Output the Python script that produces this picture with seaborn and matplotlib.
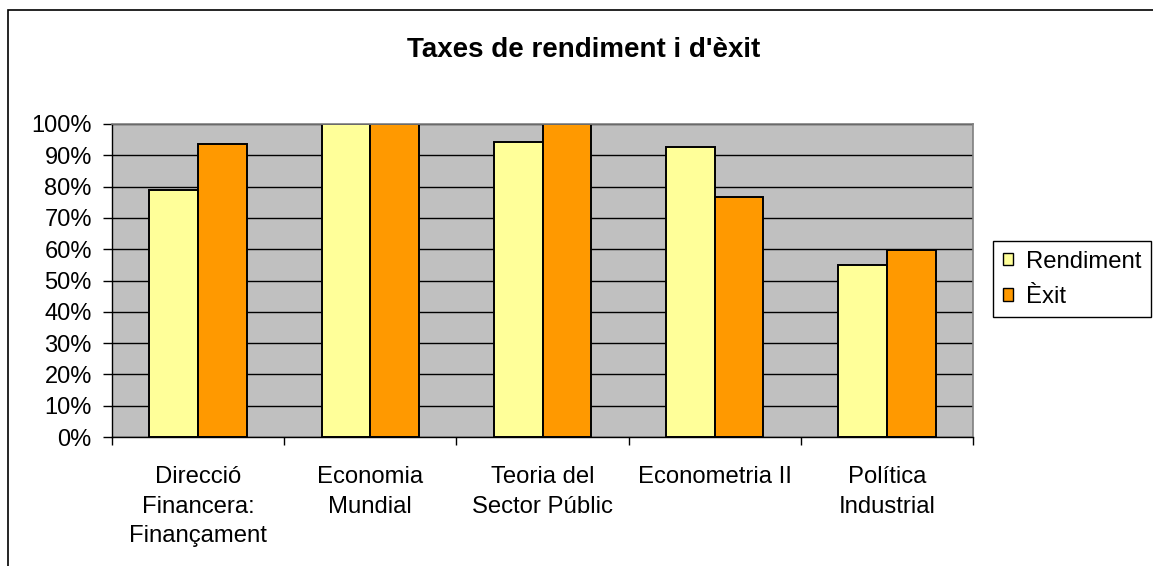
import pandas as pd
import seaborn as sns
import matplotlib.pyplot as plt
from matplotlib.patches import Rectangle, Patch

# Data
subjects = [
    "Direcció\nFinancera:\nFinançament",
    "Economia\nMundial",
    "Teoria del\nSector Públic",
    "Econometria II",
    "Política\nIndustrial",
]
rendiment = [79.0, 100.0, 94.3, 92.6, 54.8]
exit_rate = [93.7, 100.0, 100.0, 76.7, 59.7]
series_names = ["Rendiment", "Èxit"]
series_colors = ["#FFFF99", "#FF9900"]
y_ticks = list(range(0, 101, 10))

df = pd.DataFrame({
    "subject": subjects * 2,
    "value": rendiment + exit_rate,
    "series": [series_names[0]] * len(subjects) + [series_names[1]] * len(subjects),
})

plt.rcParams["font.family"] = ["Liberation Sans", "DejaVu Sans"]

W, H = 1153, 566
fig = plt.figure(figsize=(W / 100, H / 100), dpi=100)
ax = fig.add_axes([112 / W, 1 - 437 / H, (973 - 112) / W, (437 - 124) / H])

sns.barplot(
    data=df, x="subject", y="value", hue="series",
    palette=series_colors, saturation=1, width=0.565, gap=0,
    edgecolor="black", linewidth=1.4, ax=ax, legend=False,
)

ax.set_facecolor("#C0C0C0")
ax.set_ylim(0, 100)
ax.set_yticks(y_ticks)
ax.set_yticklabels([f"{t}%" for t in y_ticks])
ax.yaxis.grid(True, color="black", linewidth=1)
ax.set_axisbelow(True)
ax.set_xlim(-0.5, len(subjects) - 0.5)

# category boundary ticks like the spreadsheet chart
ax.set_xticks([i - 0.5 for i in range(len(subjects) + 1)], minor=True)
ax.tick_params(axis="x", which="major", length=0, pad=21, labelsize=17.2)
ax.tick_params(axis="x", which="minor", length=6, width=1, direction="out")
ax.tick_params(axis="y", length=6.5, width=1, direction="out", pad=8, labelsize=17)
for lbl in ax.get_xticklabels():
    lbl.set_linespacing(1.45)
    lbl.set_ha("center")

ax.set_xlabel("")
ax.set_ylabel("")
for side in ["top", "right"]:
    ax.spines[side].set_color("#808080")
    ax.spines[side].set_linewidth(1.2)
for side in ["left", "bottom"]:
    ax.spines[side].set_color("black")
    ax.spines[side].set_linewidth(1)

fig.text(584 / W, 1 - 57 / H, "Taxes de rendiment i d'èxit",
         ha="center", va="baseline", fontsize=20, fontweight="bold")

handles = [Patch(facecolor=c, edgecolor="black", linewidth=1) for c in series_colors]
leg = fig.legend(
    handles, series_names, loc="upper left",
    bbox_to_anchor=(993 / W, 1 - 241 / H), bbox_transform=fig.transFigure,
    fontsize=17.2, frameon=True, fancybox=False, framealpha=1,
    handlelength=0.45, handleheight=0.45, handletextpad=0.55,
    labelspacing=0.55, borderpad=0.4, borderaxespad=0,
)
leg.get_frame().set_edgecolor("black")
leg.get_frame().set_linewidth(1)

# outer chart border (left and top edges visible)
fig.patches.append(Rectangle((8 / W, -0.2), 2, 1.2 - 10 / H, transform=fig.transFigure,
                             fill=False, edgecolor="black", linewidth=1.2))

fig.savefig("out.png", dpi=100)
